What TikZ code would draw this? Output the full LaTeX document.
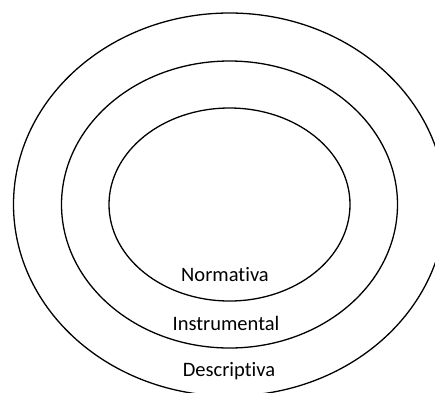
\documentclass[tikz,border=0pt]{standalone}
\usepackage{fontspec}
\setmainfont[Ligatures=NoCommon]{Carlito}
\begin{document}
\begin{tikzpicture}[x=1pt, y=-1pt, line width=1.3pt,
    etiqueta/.style={font=\fontsize{20.5}{24}\selectfont, inner sep=0pt}]
    \clip (0, 0) rectangle (435, 392);
    \useasboundingbox (0, 0) rectangle (435, 392);
    \coordinate (centro) at (229.5, 204.5);
    \draw (centro) ellipse [x radius=120.5, y radius=96.5]
          (centro) ellipse [x radius=168, y radius=143.5]
          (centro) ellipse [x radius=216, y radius=191.5];
    \draw (225, 275) node [etiqueta] (norm) {Normativa}
          (226, 323) node [etiqueta] (inst) {Instrumental}
          (229, 371) node [etiqueta] (desc) {Descriptiva};
  \end{tikzpicture}
\end{document}
